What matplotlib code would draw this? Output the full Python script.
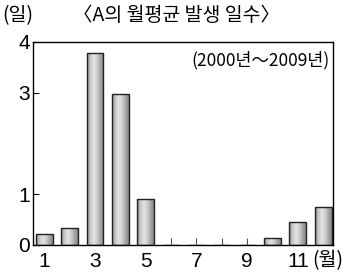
import numpy as np
import matplotlib.pyplot as plt
from matplotlib.colors import LinearSegmentedColormap

plt.rcParams['font.family'] = ['Noto Sans CJK KR', 'DejaVu Sans']

# monthly average days (2000~2009)
months = [1, 2, 3, 4, 5, 6, 7, 8, 9, 10, 11, 12]
days = [0.22, 0.33, 3.78, 2.97, 0.90, 0, 0, 0, 0, 0.13, 0.45, 0.74]
xtick_labels = ['1', '', '3', '', '5', '', '7', '', '9', '', '11', '']
yticks = [0, 1, 3, 4]

fig = plt.figure(figsize=(3.5, 2.78), dpi=100)
ax = fig.add_axes([0.093, 0.119, 0.858, 0.730])

bars = ax.bar(months, days, width=0.66, color='none', edgecolor='#222222',
              linewidth=1.0, zorder=3)

# metallic gray gradient inside each bar
cmap = LinearSegmentedColormap.from_list(
    'metal', ['#8e8e8e', '#c8c8c8', '#e4e4e4', '#cfcfcf', '#a8a8a8', '#858585'])
grad = np.linspace(0, 1, 64).reshape(1, -1)
for b in bars:
    if b.get_height() <= 0:
        continue
    x0, w, h = b.get_x(), b.get_width(), b.get_height()
    im = ax.imshow(grad, cmap=cmap, aspect='auto', extent=(x0, x0 + w, 0, h),
                   zorder=2, interpolation='bicubic')
    im.set_clip_path(b)

ax.set_xlim(0.54, 12.38)
ax.set_ylim(0, 4)
ax.set_xticks(months)
ax.set_xticklabels(xtick_labels, fontsize=15, family='Liberation Sans')
ax.set_yticks(yticks)
ax.set_yticklabels([str(v) for v in yticks], fontsize=15, family='Liberation Sans')
ax.tick_params(axis='x', direction='in', length=5, width=0.8, pad=5, color='#555555')
ax.tick_params(axis='y', direction='in', length=4, width=0.8, pad=2)
for s in ax.spines.values():
    s.set_linewidth(1.0)

ax.text(0.99, 0.91, '(2000년～2009년)', transform=ax.transAxes, ha='right',
        va='center', fontsize=12.5)
fig.text(0.005, 0.945, '(일)', ha='left', va='center', fontsize=14)
fig.text(0.503, 0.945, '〈A의 월평균 발생 일수〉', ha='center', va='center', fontsize=14)
fig.text(0.937, 0.062, '(월)', ha='center', va='center', fontsize=14)

fig.savefig('out.png', dpi=100)
